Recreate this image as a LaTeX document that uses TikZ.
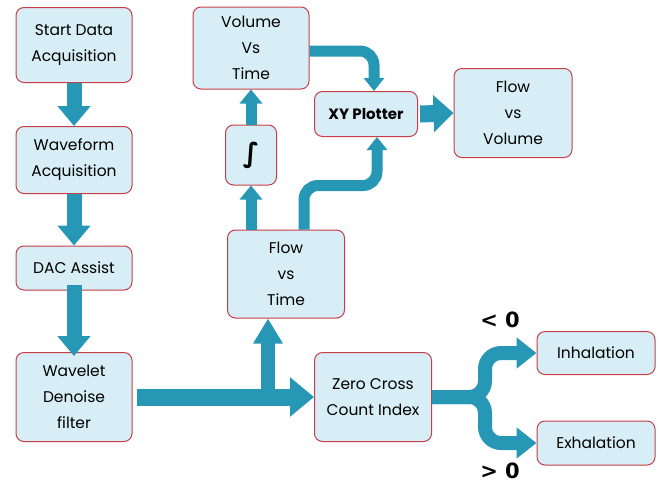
\documentclass[tikz,border=0pt]{standalone}
\usepackage{fontspec}
\setmainfont{Poppins}
\newfontfamily\symbfont{DejaVu Sans}
\usetikzlibrary{arrows.meta}
\definecolor{boxline}{RGB}{200,62,72}
\definecolor{boxfill}{RGB}{215,238,246}
\definecolor{pipe}{RGB}{38,152,182}
\tikzset{
  box/.style={draw=boxline, fill=boxfill, line width=1pt, rounded corners=8pt,
    align=center, inner sep=0pt, minimum width=116pt,
    font=\fontsize{15.5}{26}\selectfont},
  fatarrow/.style={draw=pipe, line width=15pt,
    -{Triangle[width=32pt,length=20pt]}},
  bigarrow/.style={draw=pipe, line width=17pt,
    -{Triangle[width=38pt,length=24pt]}},
  thinarrow/.style={draw=pipe, line width=11pt,
    -{Triangle[width=22pt,length=14pt]}},
  pipearrow/.style={draw=pipe, line width=11pt, rounded corners=14pt,
    -{Triangle[width=20pt,length=13pt]}},
  forkarrow/.style={draw=pipe, line width=14pt, rounded corners=16pt,
    -{Triangle[width=30pt,length=20pt]}},
  sign/.style={font=\symbfont\bfseries\fontsize{21}{21}\selectfont}
}
\begin{document}
\begin{tikzpicture}[x=1pt,y=-1pt]
  \useasboundingbox (0,0) rectangle (660,485);
  \node[box, minimum height=75pt] (start) at (74,45) {Start Data\\Acquisition};
  \node[box, minimum height=67pt] (wave) at (74,160) {Waveform\\Acquisition};
  \node[box, minimum height=44pt] (dac) at (74,268) {DAC Assist};
  \node[box, minimum height=89pt] (wavelet) at (74,397) {Wavelet\\Denoise\\filter};
  \node[box, minimum height=88pt, minimum width=117pt] (flowt) at (286,274) {Flow\\vs\\Time};
  \node[box, minimum height=60pt, minimum width=51pt,
    font=\symbfont\bfseries\fontsize{27}{27}\selectfont] (integ) at (251,155) {∫};
  \node[box, minimum height=82pt] (vol) at (251,48) {Volume\\Vs\\Time};
  \node[box, minimum height=45pt, minimum width=103pt, font=\bfseries\fontsize{15}{26}\selectfont] (xy) at (366,114) {XY Plotter};
  \node[box, minimum height=89pt, minimum width=118pt] (flowv) at (513,113) {Flow\\vs\\Volume};
  \node[box, minimum height=89pt, minimum width=117pt] (zero) at (373,397) {Zero Cross\\Count Index};
  \node[box, minimum height=43pt, minimum width=118pt] (inh) at (596,353) {Inhalation};
  \node[box, minimum height=44pt, minimum width=118pt] (exh) at (596,443) {Exhalation};
  \node[sign] (lt) at (500,320) {< 0};
  \node[sign] (gt) at (500,471) {> 0};

  \draw[fatarrow] (start) -- (wave);
  \draw[fatarrow] (wave) -- (dac);
  \draw[fatarrow] ([yshift=6pt]dac.south) -- ([yshift=-4pt]wavelet.north);
  \draw[bigarrow] ([xshift=4pt]wavelet.east) -- (zero.west);
  \coordinate (split) at (268,397);
  \draw[draw=pipe, line width=14pt, -{Triangle[width=28pt,length=25pt]}]
    (split) -- (split |- flowt.south);
  \draw[thinarrow] (integ.south |- flowt.north) -- (integ.south);
  \draw[thinarrow] (integ.north) -- (integ.north |- vol.south);
  \draw[pipearrow] ([yshift=-3pt]vol.east) -| ([xshift=8pt]xy.north);
  \draw[pipearrow] ([xshift=18pt]flowt.north) -- ++(0,-44)
    -| ([xshift=11pt]xy.south);
  \draw[draw=pipe, line width=17pt, -{Triangle[width=36pt,length=20pt]}]
    ([xshift=2pt]xy.east) -- (flowv.west);
  \draw[forkarrow] (zero.east) -- ++(53,0) |- (inh.west);
  \draw[forkarrow] (zero.east) -- ++(53,0) |- (exh.west);
\end{tikzpicture}
\end{document}
